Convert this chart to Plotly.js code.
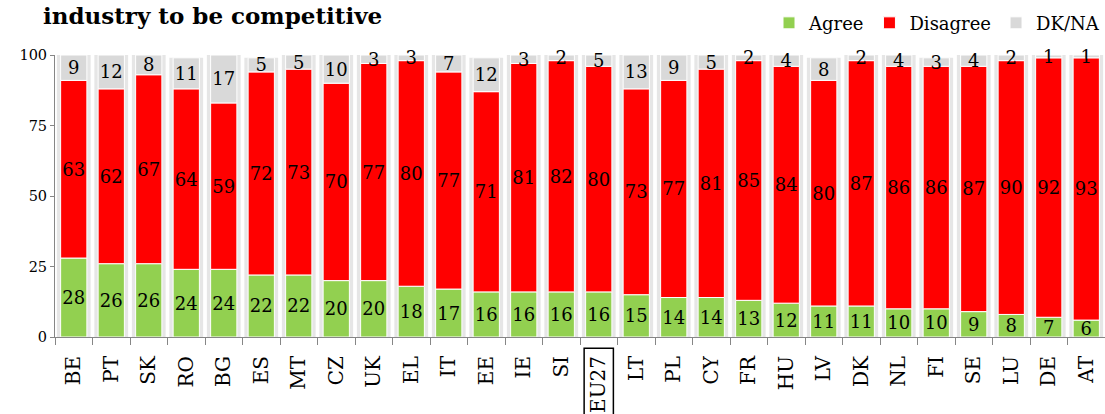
<!DOCTYPE html>
<html>
<head>
<meta charset="utf-8">
<script src="https://cdn.plot.ly/plotly-3.0.1.min.js"></script>
<style>html,body{margin:0;padding:0;background:#fff;}#chart{width:1105px;height:414px;}</style>
</head>
<body>
<div id="chart"></div>
<script>
const countries = ['BE','PT','SK','RO','BG','ES','MT','CZ','UK','EL','IT','EE','IE','SI','EU27','LT','PL','CY','FR','HU','LV','DK','NL','FI','SE','LU','DE','AT'];
const agree    = [28,26,26,24,24,22,22,20,20,18,17,16,16,16,16,15,14,14,13,12,11,11,10,10,9,8,7,6];
const disagree = [63,62,67,64,59,72,73,70,77,80,77,71,81,82,80,73,77,81,85,84,80,87,86,86,87,90,92,93];
const dkna     = [9,12,8,11,17,5,5,10,3,3,7,12,3,2,5,13,9,5,2,4,8,2,4,3,4,2,1,1];
const yTicks = [0,25,50,75,100];

const FONT = 'DejaVu Serif, Liberation Serif, serif';
const YMAX = 100;
const baseDis = agree.slice();
const baseDk = agree.map((a,i)=>a+disagree[i]);
// the original chart cuts every bar at 100 %
const dkShown = dkna.map((d,i)=>Math.min(d, YMAX - baseDk[i]));
const total = baseDk.map((b,i)=>b+dkShown[i]);

const barW = 0.7;
const common = {type:'bar', x:countries, width:barW,
  textposition:'inside', insidetextanchor:'middle', constraintext:'none', textangle:0, cliponaxis:false,
  textfont:{family:FONT,size:18,color:'#000000'}, hoverinfo:'x+text+name'};

const traces = [
  {type:'bar', x:countries, y:total, width:0.9, marker:{color:'#e6e6e6', line:{width:0}}, showlegend:false, hoverinfo:'skip'},
  Object.assign({}, common, {name:'Agree', y:agree, base:0, text:agree.map(String), marker:{color:'#92d050', line:{color:'#ffffff',width:1}}}),
  Object.assign({}, common, {name:'Disagree', y:disagree, base:baseDis, text:disagree.map(String), marker:{color:'#ff0000', line:{color:'#ffffff',width:1}}}),
  Object.assign({}, common, {name:'DK/NA', y:dkShown, base:baseDk, text:dkna.map(String), marker:{color:'#d9d9d9', line:{color:'#ffffff',width:1}}})
];

const euIdx = countries.indexOf('EU27');
const layout = {
  width:1105, height:414,
  margin:{l:55, r:0, t:55, b:77, pad:0},
  paper_bgcolor:'#ffffff', plot_bgcolor:'#ffffff',
  barmode:'overlay',
  font:{family:FONT, color:'#000000'},
  showlegend:true,
  legend:{orientation:'h', x:1, xanchor:'right', y:1.113, yanchor:'middle', font:{family:FONT,size:18,color:'#000000'}, itemgap:6, traceorder:'normal', bgcolor:'rgba(0,0,0,0)'},
  xaxis:{type:'category', range:[-0.5, countries.length-0.5], tickson:'boundaries', ticks:'outside', ticklen:7, tickcolor:'#868686',
    showline:true, linecolor:'#868686', linewidth:1, showgrid:false, tickangle:-90, ticklabelstandoff:10,
    tickfont:{family:FONT,size:20,color:'#000000'}, fixedrange:true},
  yaxis:{range:[0,YMAX], tickvals:yTicks, ticktext:yTicks.map(String), ticks:'outside', ticklen:4, tickcolor:'#868686',
    showline:true, linecolor:'#868686', linewidth:1, showgrid:false, zeroline:false,
    tickfont:{family:FONT,size:14.5,color:'#000000'}, fixedrange:true},
  annotations:[{xref:'paper', yref:'paper', x:-0.0124, y:1.19, xanchor:'left', yanchor:'top', borderpad:0, showarrow:false,
    text:'<b>industry to be competitive</b>', font:{family:FONT, size:23, color:'#000000'}}],
  shapes:[{type:'rect', xref:'x', yref:'paper', x0:euIdx-0.39, x1:euIdx+0.39, y0:-0.04, y1:-0.32, line:{color:'#000000',width:1.5}, fillcolor:'rgba(0,0,0,0)', layer:'above'}]
};

Plotly.newPlot('chart', traces, layout, {displayModeBar:false, staticPlot:true});
</script>
</body>
</html>
